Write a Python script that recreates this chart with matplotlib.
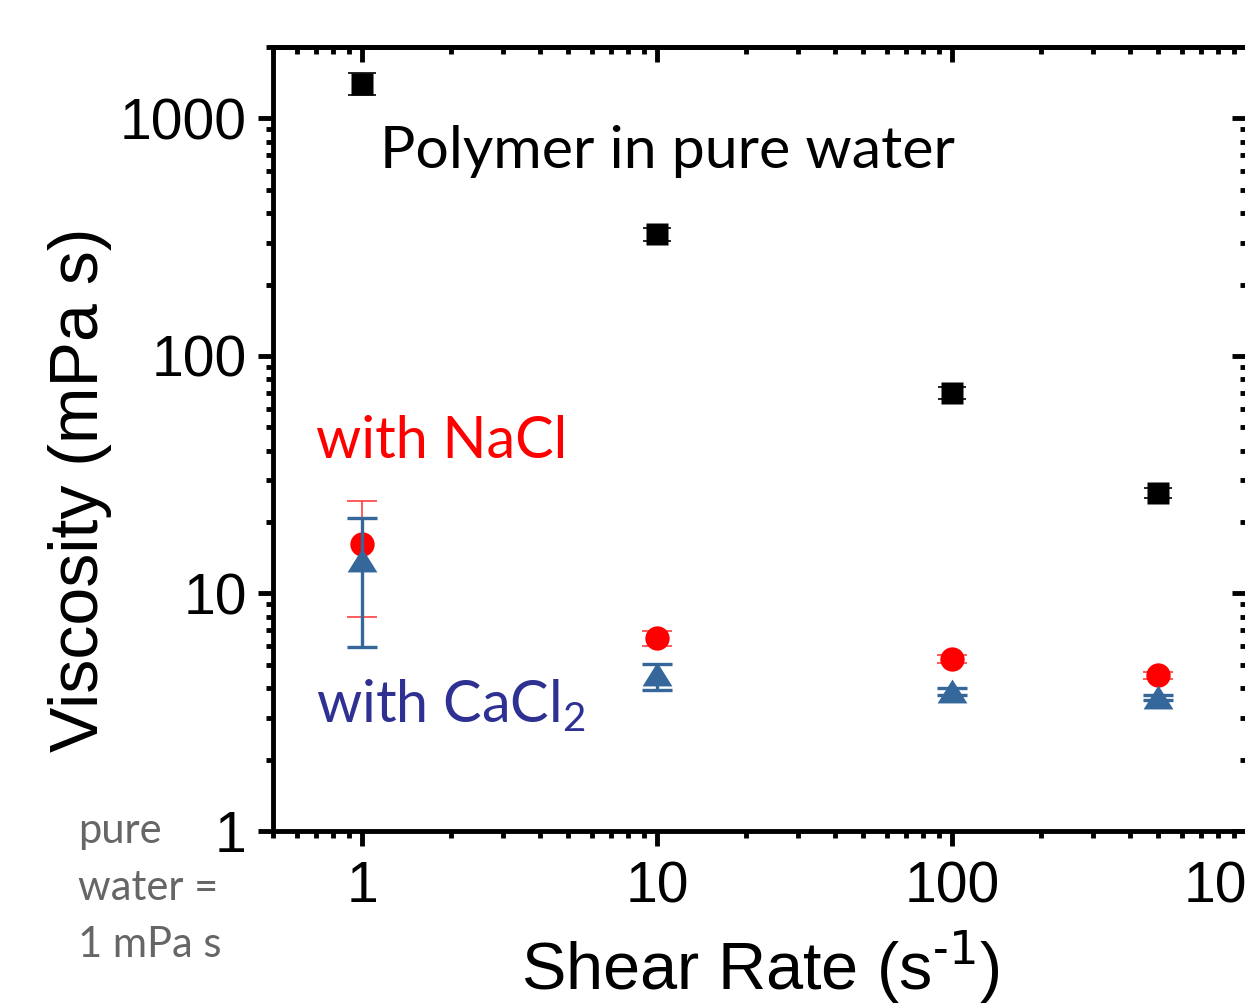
import matplotlib
matplotlib.use("Agg")
import matplotlib.pyplot as plt
import numpy as np

# ---- data ----
shear = [1, 10, 100, 500]
pure_visc = [1400, 325, 70, 26.5]
pure_err = [150, 20, 4, 1.2]

nacl_visc = [16.2, 6.49, 5.32, 4.52]
nacl_err_lo = [8.2, 0.45, 0.2, 0.15]
nacl_err_hi = [8.2, 0.45, 0.2, 0.15]

cacl_visc = [13.8, 4.6, 3.87, 3.65]
cacl_err_lo = [7.85, 0.66, 0.12, 0.1]
cacl_err_hi = [6.9, 0.47, 0.12, 0.1]

xticks = [1, 10, 100, 1000]
xticklabels = ["1", "10", "100", "1000"]
yticks = [1, 10, 100, 1000]
yticklabels = ["1", "10", "100", "1000"]

plt.rcParams['font.family'] = ['Liberation Sans', 'DejaVu Sans']

W, H = 1245, 1008
fig = plt.figure(figsize=(W / 100, H / 100), dpi=100)
left_px, right_px, bottom_px, top_px = 273.2, 1247, 831, 47
ax = fig.add_axes([left_px / W, (H - bottom_px) / H,
                   (right_px - left_px) / W, (bottom_px - top_px) / H])
ax.set_xscale('log')
ax.set_yscale('log')
ax.set_xlim(0.5, 1000)
ax.set_ylim(1, 2000)

# blue triangle marker (flattened)
tri = [(-1, -0.8), (1, -0.8), (0, 0.8), (-1, -0.8)]

ax.errorbar(shear, nacl_visc, yerr=[nacl_err_lo, nacl_err_hi], fmt='none',
            ecolor='#ff4040', elinewidth=1.2, capsize=10.5, capthick=1.2, zorder=2)
ax.plot(shear, nacl_visc, 'o', color='#ff0000', ms=17.5, mec='none', zorder=3)

ax.errorbar(shear, cacl_visc, yerr=[cacl_err_lo, cacl_err_hi], fmt='none',
            ecolor='#35679b', elinewidth=2.4, capsize=10.5, capthick=2.4, zorder=4)
ax.plot(shear, cacl_visc, linestyle='none', marker=tri, color='#35679b',
        ms=21.5, mec='none', zorder=5)

ax.errorbar(shear, pure_visc, yerr=pure_err, fmt='none', ecolor='black',
            elinewidth=1.2, capsize=10, capthick=1.2, zorder=6)
ax.plot(shear, pure_visc, 's', color='black', ms=15.8, mec='none', zorder=7)

for s in ax.spines.values():
    s.set_linewidth(3.5)

ax.set_xticks(xticks)
ax.set_xticklabels(xticklabels)
ax.set_yticks(yticks)
ax.set_yticklabels(yticklabels)
ax.xaxis.set_minor_locator(matplotlib.ticker.LogLocator(base=10, subs=np.arange(2, 10)))
ax.yaxis.set_minor_locator(matplotlib.ticker.LogLocator(base=10, subs=np.arange(2, 10)))
ax.xaxis.set_minor_formatter(matplotlib.ticker.NullFormatter())
ax.yaxis.set_minor_formatter(matplotlib.ticker.NullFormatter())

ax.tick_params(which='major', length=11, width=3.5, labelsize=41)
ax.tick_params(which='minor', length=5, width=3.5)
ax.tick_params(axis='x', which='both', direction='out', top=False)
ax.tick_params(axis='y', which='both', direction='out', right=False)
ax.tick_params(axis='x', which='major', pad=10)
ax.tick_params(axis='y', which='major', pad=8)

# inward ticks on the top and right
axt = ax.secondary_xaxis('top')
axt.set_xticks(xticks)
axt.xaxis.set_minor_locator(matplotlib.ticker.LogLocator(base=10, subs=np.arange(2, 10)))
axt.tick_params(which='major', direction='in', length=11, width=3.5, labeltop=False)
axt.tick_params(which='minor', direction='in', length=5, width=3.5)
axt.spines['top'].set_linewidth(3.5)
axr = ax.secondary_yaxis('right')
axr.set_yticks(yticks)
axr.yaxis.set_minor_locator(matplotlib.ticker.LogLocator(base=10, subs=np.arange(2, 10)))
axr.tick_params(which='major', direction='in', length=11, width=3.5, labelright=False)
axr.tick_params(which='minor', direction='in', length=5, width=3.5)
axr.spines['right'].set_linewidth(3.5)

fig.text(80 / W, (H - 490) / H, 'Viscosity (mPa s)', rotation=90, fontsize=49,
         ha='center', va='center')
fig.text(760 / W, (H - 990) / H, 'Shear Rate (s$^{\\mathregular{\u2010}1}$)', fontsize=48,
         ha='center', va='baseline')

cal = ['Lato', 'DejaVu Sans']
fig.text(380 / W, (H - 168) / H, 'Polymer in pure water', fontsize=42.5,
         family=cal, color='black', va='baseline', ha='left')
fig.text(316 / W, (H - 458) / H, 'with NaCl', fontsize=41.5,
         family=cal, color='#ff0000', va='baseline', ha='left')
fig.text(316 / W, (H - 722) / H, r'with CaCl$_\mathregular{2}$', fontsize=41.5,
         family=cal, color='#2e3192', va='baseline', ha='left')
fig.text(78 / W, (H - 843) / H, 'pure', fontsize=30, family=cal, color='#666666',
         va='baseline', ha='left')
fig.text(78 / W, (H - 900) / H, 'water =', fontsize=30, family=cal, color='#666666',
         va='baseline', ha='left')
fig.text(78 / W, (H - 957) / H, '1 mPa s', fontsize=30, family=cal, color='#666666',
         va='baseline', ha='left')

fig.savefig('out.png', dpi=100)
